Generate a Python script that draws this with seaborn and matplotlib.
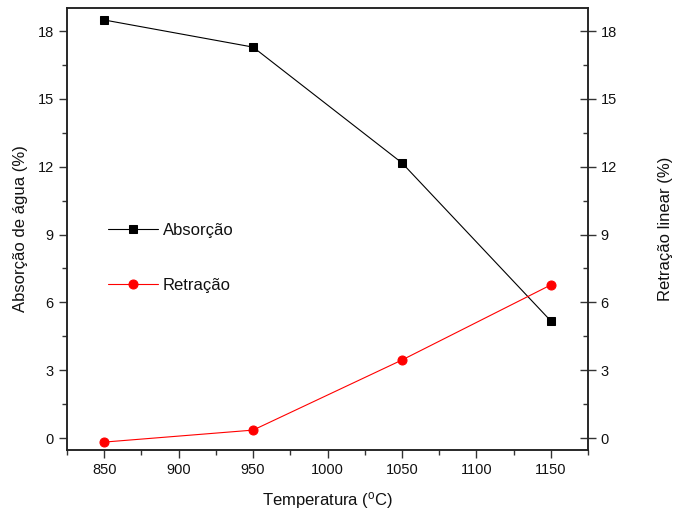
import matplotlib
matplotlib.use("Agg")
import matplotlib.pyplot as plt
from matplotlib.ticker import MultipleLocator
import seaborn as sns
import pandas as pd

temperatura = [850, 950, 1050, 1150]
absorcao = [18.49, 17.29, 12.17, 5.18]
retracao = [-0.18, 0.35, 3.45, 6.77]

sns.set_style("white")
plt.rcParams['font.family'] = ['Liberation Sans', 'DejaVu Sans']
plt.rcParams['mathtext.fontset'] = 'custom'
plt.rcParams['mathtext.rm'] = 'Liberation Sans'
plt.rcParams['text.color'] = '#111111'
plt.rcParams['axes.labelcolor'] = '#111111'
plt.rcParams['xtick.labelcolor'] = '#111111'
plt.rcParams['ytick.labelcolor'] = '#111111'

df = pd.DataFrame({'T': temperatura, 'Absorção': absorcao, 'Retração': retracao})

fig = plt.figure(figsize=(6.73, 5.14), dpi=100)
ax = fig.add_axes([67/673, 1-450/514, 521/673, 442/514])

sns.lineplot(data=df, x='T', y='Absorção', ax=ax, color='black', lw=0.8,
             marker='s', markersize=5.5, markeredgecolor='black', label='Absorção')
sns.lineplot(data=df, x='T', y='Retração', ax=ax, color='red', lw=0.8,
             marker='o', markersize=6.5, markeredgecolor='red', label='Retração')

ax.set_xlim(825, 1175)
ax.set_ylim(-0.53, 19.02)
ax.xaxis.set_major_locator(MultipleLocator(50))
ax.xaxis.set_minor_locator(MultipleLocator(25))
ax.yaxis.set_major_locator(MultipleLocator(3))
ax.yaxis.set_minor_locator(MultipleLocator(1.5))
ax.set_xticks([850, 900, 950, 1000, 1050, 1100, 1150])
ax.tick_params(axis='both', which='major', direction='out', length=6, width=1,
               labelsize=10.5, color='#333333', bottom=True, left=True)
ax.tick_params(axis='both', which='minor', direction='out', length=3.5, width=1,
               color='#333333', bottom=True, left=True)
ax.set_xlabel('Temperatura ($\\mathrm{^{o}}$C)', fontsize=12, labelpad=9)
ax.set_ylabel('Absorção de água (%)', fontsize=12, labelpad=7)
for s in ax.spines.values():
    s.set_linewidth(1.1)
    s.set_color('#222222')

ax2 = ax.twinx()
ax2.set_ylim(ax.get_ylim())
ax2.yaxis.set_major_locator(MultipleLocator(3))
ax2.yaxis.set_minor_locator(MultipleLocator(1.5))
ax2.tick_params(axis='y', which='major', direction='inout', length=11, width=1,
                labelsize=10.5, color='#333333', right=True)
ax2.tick_params(axis='y', which='minor', direction='in', length=3.5, width=1,
                color='#333333', right=True)
ax2.set_ylabel('Retração linear (%)', fontsize=12, labelpad=30)
for s in ax2.spines.values():
    s.set_linewidth(1.1)
    s.set_color('#222222')

leg = ax.legend(loc='upper left', bbox_to_anchor=(0.05, 0.547), frameon=False,
                fontsize=12, labelspacing=2.4, handlelength=3, handletextpad=0.3)

fig.savefig('out.png', dpi=100)
